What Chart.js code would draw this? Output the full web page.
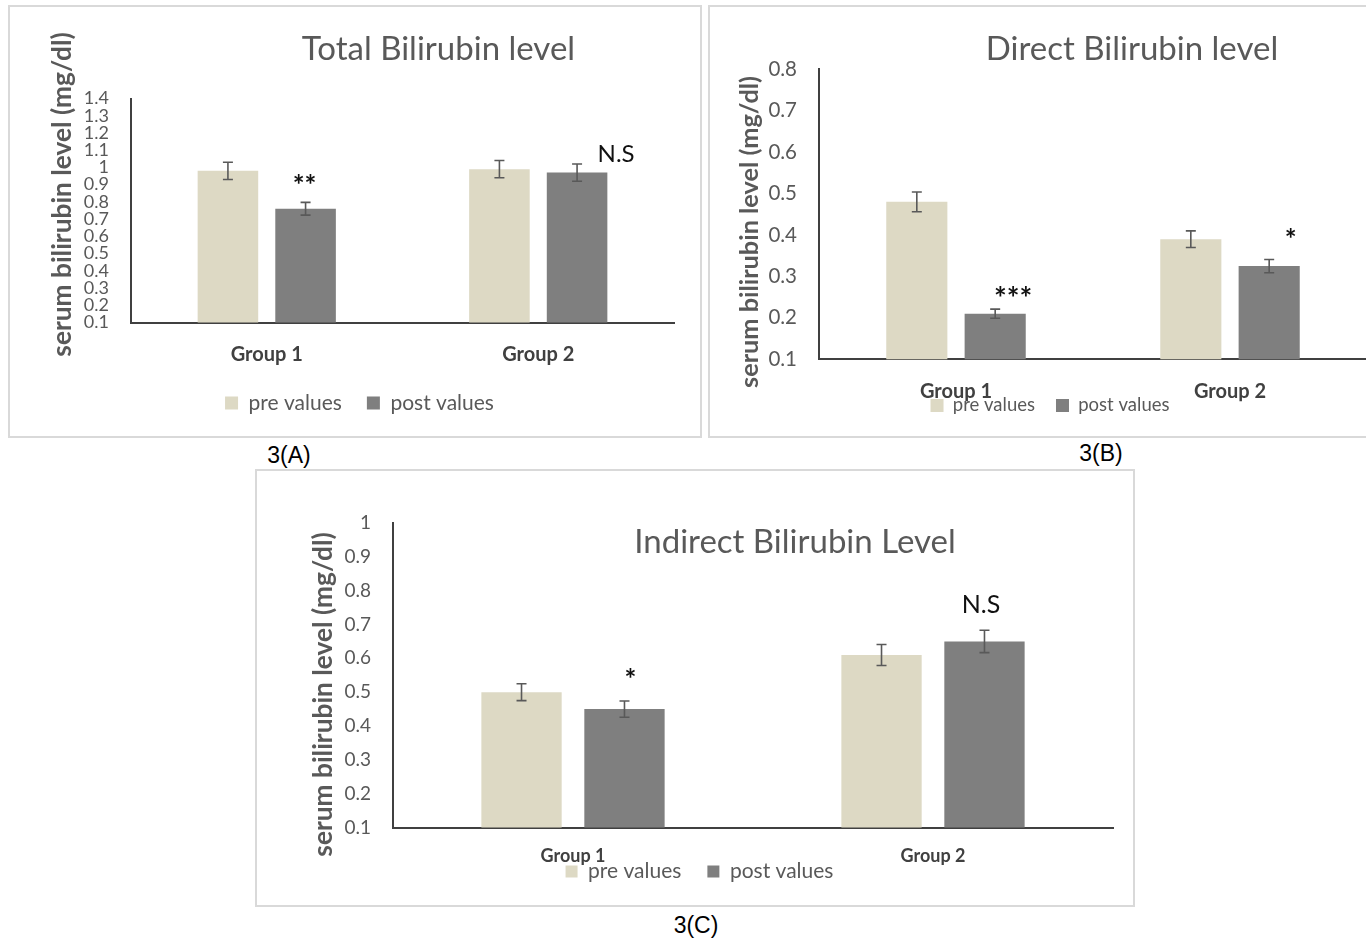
<!DOCTYPE html>
<html>
<head>
<meta charset="utf-8">
<script src="https://cdn.jsdelivr.net/npm/chart.js@4.4.1/dist/chart.umd.min.js"></script>
<style>
html,body{margin:0;padding:0;background:#fff;width:1366px;height:940px;overflow:hidden;position:relative;font-family:Lato,sans-serif}
.frame{position:absolute;border:2px solid #d9d9d9;box-sizing:border-box}
.wrap{position:absolute}
.cap{position:absolute;font-family:"Liberation Sans",Arial,sans-serif;font-size:23px;color:#000;transform:translate(-50%,-50%);white-space:nowrap;line-height:1}
</style>
</head>
<body>
<div class="frame" style="left:8px;top:5px;width:694px;height:433px"></div>
<div class="frame" style="left:708px;top:5px;width:700px;height:433px"></div>
<div class="frame" style="left:255px;top:469px;width:880px;height:438px"></div>
<div class="wrap" style="left:9px;top:6px;width:692px;height:431px"><canvas id="cA"></canvas></div>
<div class="wrap" style="left:709px;top:6px;width:660px;height:431px"><canvas id="cB"></canvas></div>
<div class="wrap" style="left:256px;top:470px;width:878px;height:436px"><canvas id="cC"></canvas></div>
<div class="cap" style="left:289px;top:455px">3(A)</div>
<div class="cap" style="left:1101px;top:453px">3(B)</div>
<div class="cap" style="left:696px;top:925px">3(C)</div>
<script>
// ---------- data ----------
const groups = ['Group 1', 'Group 2'];
const seriesNames = ['pre values', 'post values'];
const yAxisTitle = 'serum bilirubin level (mg/dl)';

const totalTitle = 'Total Bilirubin level';
const totalPre = [0.98, 0.99];
const totalPost = [0.76, 0.97];
const totalPreErr = [0.05, 0.05];
const totalPostErr = [0.037, 0.05];
const totalSig = ['**', 'N.S'];
const totalTicks = [0.1, 0.2, 0.3, 0.4, 0.5, 0.6, 0.7, 0.8, 0.9, 1, 1.1, 1.2, 1.3, 1.4];

const directTitle = 'Direct Bilirubin level';
const directPre = [0.48, 0.39];
const directPost = [0.21, 0.325];
const directPreErr = [0.024, 0.02];
const directPostErr = [0.011, 0.016];
const directSig = ['***', '*'];
const directTicks = [0.1, 0.2, 0.3, 0.4, 0.5, 0.6, 0.7, 0.8];

const indirectTitle = 'Indirect Bilirubin Level';
const indirectPre = [0.50, 0.61];
const indirectPost = [0.45, 0.65];
const indirectPreErr = [0.025, 0.031];
const indirectPostErr = [0.024, 0.033];
const indirectSig = ['*', 'N.S'];
const indirectTicks = [0.1, 0.2, 0.3, 0.4, 0.5, 0.6, 0.7, 0.8, 0.9, 1];

// ---------- styles ----------
const PRE_COLOR = '#ddd9c4';
const POST_COLOR = '#7f7f7f';
const TEXT_GRAY = '#595959';
const AXIS_COLOR = '#404040';
const FONT = 'Lato, "Open Sans", sans-serif';

const extrasPlugin = {
  id: 'extras',
  afterLayout(chart, args, o) {
    if (o.legendTop != null && chart.legend) {
      const lg = chart.legend;
      const h = lg.height;
      lg.top = o.legendTop;
      lg.bottom = o.legendTop + h;
    }
  },
  afterDatasetsDraw(chart, args, o) {
    const ctx = chart.ctx;
    const ys = chart.scales.y;
    ctx.save();
    // error bars
    chart.data.datasets.forEach((ds, di) => {
      chart.getDatasetMeta(di).data.forEach((bar, i) => {
        const v = ds.data[i], e = ds.errors[i];
        const t = ys.getPixelForValue(v + e), b = ys.getPixelForValue(v - e);
        const h = o.capWidth / 2;
        ctx.strokeStyle = o.errorColor;
        ctx.lineWidth = o.errorWidth;
        ctx.beginPath();
        ctx.moveTo(bar.x, t); ctx.lineTo(bar.x, b);
        ctx.moveTo(bar.x - h, t); ctx.lineTo(bar.x + h, t);
        ctx.moveTo(bar.x - h, b); ctx.lineTo(bar.x + h, b);
        ctx.stroke();
      });
    });
    // significance marks above the post bars
    const meta = chart.getDatasetMeta(1);
    ctx.fillStyle = o.sigColor;
    ctx.textAlign = 'center';
    ctx.textBaseline = 'alphabetic';
    o.sig.forEach((txt, i) => {
      const bar = meta.data[i];
      const [dx, dy, fs] = o.sigOffsets[i];
      const weight = txt.indexOf('*') >= 0 ? 'bold ' : '';
      ctx.font = weight + fs + 'px ' + FONT;
      const m = ctx.measureText(txt);
      const cy = bar.y + dy;
      ctx.fillText(txt, bar.x + dx, cy + (m.actualBoundingBoxAscent - m.actualBoundingBoxDescent) / 2);
    });
    // chart title
    ctx.font = o.titleSize + 'px ' + FONT;
    ctx.fillStyle = o.titleColor;
    ctx.fillText(o.title, o.titleX, o.titleY);
    // y axis title
    ctx.translate(o.yTitleX, o.yTitleY);
    ctx.rotate(-Math.PI / 2);
    ctx.font = 'bold ' + o.yTitleSize + 'px ' + FONT;
    ctx.textBaseline = 'middle';
    ctx.fillText(o.yTitle, 0, 0);
    ctx.restore();
  }
};

function makeChart(id, d, s) {
  return new Chart(document.getElementById(id), {
    type: 'bar',
    data: {
      labels: groups,
      datasets: [
        { label: seriesNames[0], data: d.pre, errors: d.preErr, backgroundColor: PRE_COLOR, borderWidth: 0,
          categoryPercentage: 0.572, barPercentage: 0.78 },
        { label: seriesNames[1], data: d.post, errors: d.postErr, backgroundColor: POST_COLOR, borderWidth: 0,
          categoryPercentage: 0.572, barPercentage: 0.78 }
      ]
    },
    options: {
      responsive: true,
      maintainAspectRatio: false,
      animation: false,
      events: [],
      layout: { padding: s.pad },
      plugins: {
        legend: {
          display: true,
          position: 'bottom',
          labels: { boxWidth: s.box, boxHeight: s.box, padding: s.legendPad, color: TEXT_GRAY,
                    font: { family: FONT, size: s.legendFont } }
        },
        title: { display: false },
        tooltip: { enabled: false },
        extras: {
          capWidth: 10, errorColor: '#595959', errorWidth: 1.6,
          sig: d.sig, sigOffsets: s.sigOffsets, sigColor: '#111111',
          title: d.title, titleX: s.titleX, titleY: s.titleY, titleSize: s.titleSize, titleColor: TEXT_GRAY,
          yTitle: yAxisTitle, yTitleX: s.yTitleX, yTitleY: s.yTitleY, yTitleSize: s.yTitleSize,
          legendTop: s.legendTop
        }
      },
      scales: {
        x: {
          grid: { display: false, drawTicks: false },
          border: { display: true, color: AXIS_COLOR, width: 2 },
          ticks: { color: AXIS_COLOR, padding: s.xPad, font: { family: FONT, size: s.xFont, weight: 'bold' } },
          afterFit(scale) { scale.height = s.xH; }
        },
        y: {
          min: d.ticks[0],
          max: d.ticks[d.ticks.length - 1],
          grid: { display: false, drawTicks: false },
          border: { display: true, color: AXIS_COLOR, width: 2 },
          afterBuildTicks(scale) { scale.ticks = d.ticks.map(v => ({ value: v })); },
          ticks: { autoSkip: false, color: TEXT_GRAY, padding: 22, callback: v => String(v),
                   font: { family: FONT, size: s.tickFont, lineHeight: 1 } },
          afterFit(scale) { scale.width = s.yW; }
        }
      }
    },
    plugins: [extrasPlugin]
  });
}

makeChart('cA',
  { title: totalTitle, pre: totalPre, post: totalPost, preErr: totalPreErr, postErr: totalPostErr, sig: totalSig, ticks: totalTicks },
  { pad: { left: 36, right: 27, top: 92.5, bottom: 13.5 }, yW: 86, xH: 45, tickFont: 18, xFont: 20, xPad: 20.5,
    legendFont: 21, legendPad: 25, box: 13, legendTop: null,
    titleX: 429.5, titleY: 54, titleSize: 33,
    yTitleX: 53.5, yTitleY: 188.5, yTitleSize: 26.3,
    sigOffsets: [[-1, -30, 28], [39, -19, 24]] });

makeChart('cB',
  { title: directTitle, pre: directPre, post: directPost, preErr: directPreErr, postErr: directPostErr, sig: directSig, ticks: directTicks },
  { pad: { left: 24, right: 2, top: 63.3, bottom: -13.8 }, yW: 86, xH: 42, tickFont: 20.5, xFont: 20, xPad: 20.7,
    legendFont: 18.5, legendPad: 21, box: 13, legendTop: 369.25,
    titleX: 423, titleY: 54, titleSize: 33,
    yTitleX: 40.7, yTitleY: 226, yTitleSize: 25.3,
    sigOffsets: [[18, -22.5, 30], [21.5, -32.7, 28]] });

makeChart('cC',
  { title: indirectTitle, pre: indirectPre, post: indirectPost, preErr: indirectPreErr, postErr: indirectPostErr, sig: indirectSig, ticks: indirectTicks },
  { pad: { left: 30, right: 21, top: 53, bottom: -16.5 }, yW: 107, xH: 38, tickFont: 19, xFont: 18, xPad: 17.5,
    legendFont: 21, legendPad: 26, box: 12, legendTop: 365,
    titleX: 539, titleY: 83, titleSize: 33,
    yTitleX: 67.5, yTitleY: 224.5, yTitleSize: 26.3,
    sigOffsets: [[6, -36.5, 28], [-3.5, -37.7, 25]] });
</script>
</body>
</html>
